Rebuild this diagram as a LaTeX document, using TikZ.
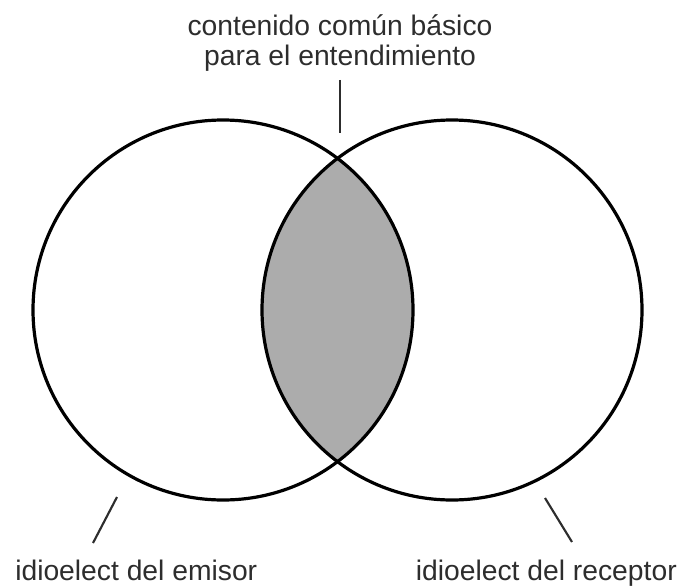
\documentclass[tikz,border=0pt]{standalone}
\usepackage{fontspec}
\setmainfont{Liberation Sans}
\usepackage{tikz}
\definecolor{lensgray}{RGB}{172,172,172}
\definecolor{inkgray}{RGB}{45,45,45}
\tikzset{
	ring/.style={line width=2.4pt},
	leader/.style={line width=1.6pt, inkgray},
	lbl/.style={inkgray, inner sep=0pt, font=\fontsize{21.2}{21.8}\selectfont}
}

\begin{document}
\begin{tikzpicture}[x=0.75pt, y=-0.75pt]
	\useasboundingbox (0,0) rectangle (681,585);
	\coordinate (emisor) at (223,310);
	\coordinate (receptor) at (452,310);
	\begin{scope}
		\clip (emisor) circle (190);
		\fill[lensgray] (receptor) circle (190);
	\end{scope}
	\draw[ring] (emisor) circle (190);
	\draw[ring] (receptor) circle (190);
	\node[lbl, align=center] (comun) at (340,43) {contenido común básico\\para el entendimiento};
	\node[lbl, anchor=base west] (emisorlbl) at (15,580) {idioelect del emisor};
	\node[lbl, anchor=base east] (receptorlbl) at (677,580) {idioelect del receptor};
	\coordinate (c1) at (340,80); \coordinate (c2) at (340,133);
	\coordinate (e1) at (117,497); \coordinate (e2) at (93,543);
	\coordinate (r1) at (545,498); \coordinate (r2) at (572,542);
	\draw[leader] (c1) -- (c2);
	\draw[leader] (e1) -- (e2);
	\draw[leader] (r1) -- (r2);
\end{tikzpicture}
\end{document}
